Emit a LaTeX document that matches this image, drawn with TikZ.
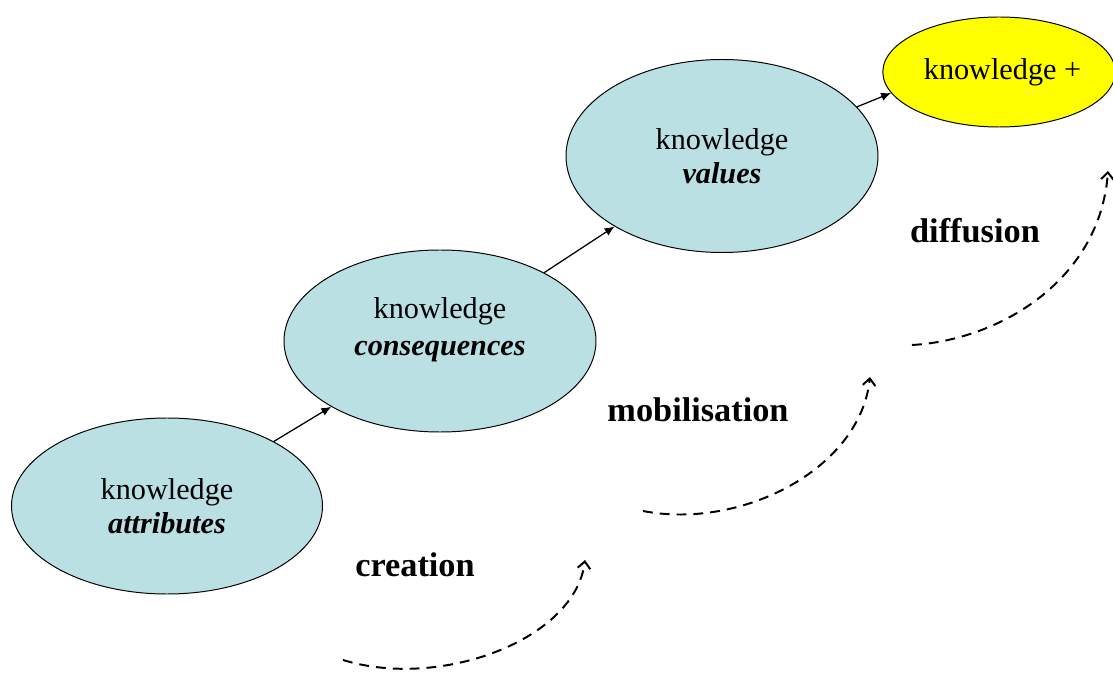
\documentclass[tikz,border=0pt]{standalone}
\usepackage{fontspec}
\setmainfont{Liberation Serif}
\usetikzlibrary{shapes.geometric,arrows.meta}
\definecolor{knowblue}{RGB}{187,224,227}
\definecolor{knowyellow}{RGB}{255,255,0}

\begin{document}
\begin{tikzpicture}[x=0.025cm,y=-0.025cm,
	knowellipse/.style={ellipse,draw=black,line width=0.7pt,fill=knowblue,inner sep=0pt,
		align=center,font=\fontsize{21.5}{24}\selectfont},
	stagelabel/.style={font=\fontsize{24.4}{28}\selectfont\bfseries},
	linkarrow/.style={line width=0.9pt,-{Latex[length=7pt,width=6pt]}},
	stagearrow/.style={line width=1.4pt,dash pattern=on 7pt off 5pt,-{Straight Barb[length=5pt,width=9pt]}}]
	\useasboundingbox (0,0) rectangle (1113,675);
	\node[knowellipse,minimum width=311*0.025cm,minimum height=176*0.025cm] (attr) at (167,506) {knowledge\\\textbf{\textit{attributes}}};
	\node[knowellipse,minimum width=312*0.025cm,minimum height=182*0.025cm,
		font=\fontsize{21.5}{26}\selectfont,text depth=21pt] (cons) at (440,341) {knowledge\\\textbf{\textit{consequences}}};
	\node[knowellipse,minimum width=312*0.025cm,minimum height=193*0.025cm] (val) at (722,156) {knowledge\\\textbf{\textit{values}}};
	\node[knowellipse,fill=knowyellow,minimum width=224*0.025cm,minimum height=110*0.025cm] (plus) at (999,72) {\hspace{5pt}knowledge +};
	\draw[linkarrow] (attr) -- (cons);
	\draw[linkarrow] (cons) -- (val);
	\draw[linkarrow] (val.20) -- (plus.191);
	% stages
	\node[stagelabel] (crea) at (415,565) {creation};
	\node[stagelabel] (mobi) at (698,410) {mobilisation};
	\node[stagelabel] (diff) at (975,231) {diffusion};
	\coordinate (creaS) at (343,660);
	\coordinate (creaE) at (585,560);
	\coordinate (mobiS) at (643,511);
	\coordinate (mobiE) at (870,377);
	\coordinate (diffS) at (912,345);
	\coordinate (diffE) at (1108,171);
	\draw[stagearrow] (creaS) .. controls (440,690) and (575,640) .. (creaE);
	\draw[stagearrow] (mobiS) .. controls (740,530) and (860,470) .. (mobiE);
	\draw[stagearrow] (diffS) .. controls (1000,340) and (1100,280) .. (diffE);
\end{tikzpicture}
\end{document}
